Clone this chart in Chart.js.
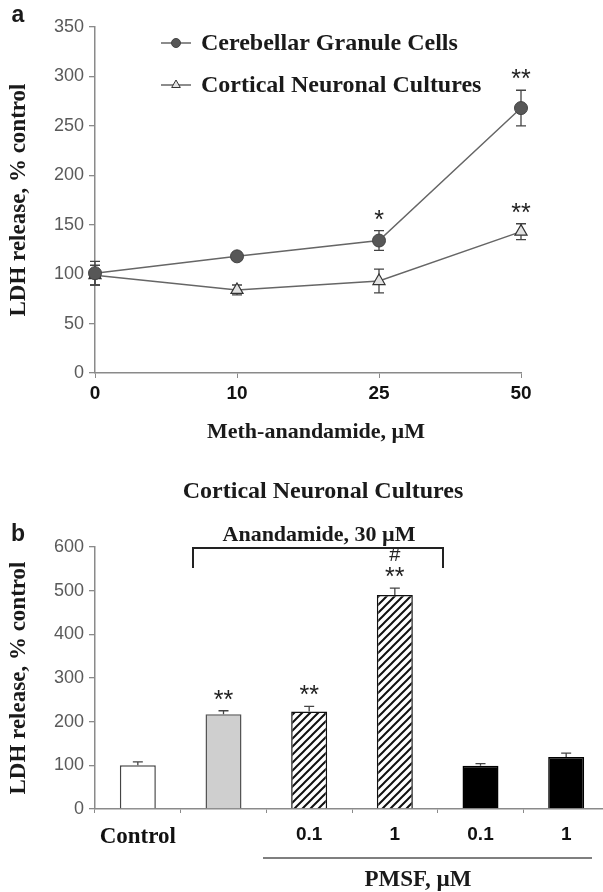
<!DOCTYPE html>
<html>
<head>
<meta charset="utf-8">
<script src="https://cdn.jsdelivr.net/npm/chart.js@4.4.1/dist/chart.umd.min.js"></script>
<style>
  html, body { margin: 0; padding: 0; background: #fff; }
  #wrap { position: relative; width: 603px; height: 892px; overflow: hidden; }
  #boxA { position: absolute; left: 0; top: 0; width: 603px; height: 455px; }
  #boxB { position: absolute; left: 0; top: 455px; width: 615px; height: 437px; }
</style>
</head>
<body>
<div id="wrap">
  <div id="boxA"><canvas id="chartA"></canvas></div>
  <div id="boxB"><canvas id="chartB"></canvas></div>
</div>
<script>
// Panel a data
const doseLabels = ['0', '10', '25', '50'];
const cgcValues = [101, 118, 134, 268];
const cgcErrors = [12, 4, 10, 18];
const cgcStars = ['', '', '*', '**'];
const cncValues = [99, 84, 93, 143];
const cncErrors = [10, 5, 12, 8];
const cncStars = ['', '', '', '**'];
const aTickMax = 350, aTickStep = 50;

// Panel b data
const barLabels = ['Control', '', '0.1', '1', '0.1', '1'];
const barValues = [100, 217, 223, 490, 99, 119];
const barErrors = [8, 8, 12, 16, 5, 9];
const barStars = ['', '**', '**', '**', '', ''];
const barHash = ['', '', '', '#', '', ''];
const bTickMax = 600, bTickStep = 100;

const SERIF = '"Liberation Serif", "Times New Roman", serif';
const SANS = '"Liberation Sans", Arial, sans-serif';
const AXIS = '#8a8a8a';

// diagonal hatch for the anandamide + PMSF bars
function hatch() {
    const c = document.createElement('canvas');
    c.width = 8; c.height = 8;
    const g = c.getContext('2d');
    g.fillStyle = '#fff';
    g.fillRect(0, 0, 8, 8);
    g.strokeStyle = '#111';
    g.lineWidth = 2;
    g.beginPath();
    g.moveTo(-2, 10); g.lineTo(10, -2);
    g.moveTo(-2, 2); g.lineTo(2, -2);
    g.moveTo(6, 10); g.lineTo(10, 6);
    g.stroke();
    return g.createPattern(c, 'repeat');
}

// error bars, drawn from each dataset's errors list
const errorBars = {
    id: 'errorBars',
    beforeDatasetsDraw(chart, args, opts) {
        if (opts.upOnly) return;
        drawErrors(chart, opts);
    },
    afterDatasetsDraw(chart, args, opts) {
        if (!opts.upOnly) return;
        drawErrors(chart, opts);
    }
};

function drawErrors(chart, opts) {
    const ctx = chart.ctx;
    const y = chart.scales.y;
    ctx.save();
    ctx.strokeStyle = opts.color || '#444';
    ctx.lineWidth = 1.3;
    chart.data.datasets.forEach((ds, di) => {
        const meta = chart.getDatasetMeta(di);
        meta.data.forEach((el, i) => {
            const v = ds.data[i], e = ds.errors[i];
            const top = y.getPixelForValue(v + e);
            const bot = opts.upOnly ? y.getPixelForValue(v) : y.getPixelForValue(v - e);
            const w = opts.cap;
            ctx.beginPath();
            ctx.moveTo(el.x, top); ctx.lineTo(el.x, bot);
            ctx.moveTo(el.x - w, top); ctx.lineTo(el.x + w, top);
            if (!opts.upOnly) { ctx.moveTo(el.x - w, bot); ctx.lineTo(el.x + w, bot); }
            ctx.stroke();
        });
    });
    ctx.restore();
}

// significance marks above the error bars
const starMarks = {
    id: 'starMarks',
    afterDatasetsDraw(chart, args, opts) {
        const ctx = chart.ctx;
        const y = chart.scales.y;
        ctx.save();
        ctx.fillStyle = '#222';
        ctx.textAlign = 'center';
        ctx.textBaseline = 'alphabetic';
        chart.data.datasets.forEach((ds, di) => {
            const meta = chart.getDatasetMeta(di);
            meta.data.forEach((el, i) => {
                const top = y.getPixelForValue(ds.data[i] + ds.errors[i]);
                if (ds.stars && ds.stars[i]) {
                    ctx.font = '25px ' + SANS;
                    ctx.fillText(ds.stars[i], el.x, top + opts.gap);
                }
                if (ds.hash && ds.hash[i]) {
                    ctx.font = '20px ' + SANS;
                    ctx.fillText(ds.hash[i], el.x, top + opts.gap - 24);
                }
            });
        });
        ctx.restore();
    }
};

// free text, legend, brackets
const freeText = {
    id: 'freeText',
    afterDraw(chart, args, opts) {
        const ctx = chart.ctx;
        ctx.save();
        (opts.lines || []).forEach(l => {
            ctx.strokeStyle = l.color || '#222';
            ctx.lineWidth = l.width || 1.5;
            ctx.beginPath();
            l.pts.forEach((p, k) => k ? ctx.lineTo(p[0], p[1]) : ctx.moveTo(p[0], p[1]));
            ctx.stroke();
        });
        (opts.texts || []).forEach(t => {
            ctx.font = t.font;
            ctx.fillStyle = t.color || '#1a1a1a';
            ctx.textAlign = t.align || 'center';
            ctx.textBaseline = 'middle';
            ctx.fillText(t.text, t.x, t.y);
        });
        (opts.legend || []).forEach(item => {
            const ds = chart.data.datasets[item.index];
            ctx.strokeStyle = ds.borderColor;
            ctx.lineWidth = 1.5;
            ctx.beginPath();
            ctx.moveTo(item.x, item.y); ctx.lineTo(item.x + 30, item.y);
            ctx.stroke();
            ctx.fillStyle = ds.pointBackgroundColor;
            ctx.strokeStyle = ds.pointBorderColor;
            ctx.lineWidth = 1;
            Chart.helpers.drawPoint(ctx, { pointStyle: ds.pointStyle, radius: item.r, rotation: 0, borderWidth: 1 }, item.x + 15, item.y);
            ctx.font = 'bold 24px ' + SERIF;
            ctx.fillStyle = '#1a1a1a';
            ctx.textAlign = 'left';
            ctx.textBaseline = 'middle';
            ctx.fillText(ds.label, item.x + 40, item.y + 1);
        });
        ctx.restore();
    }
};

function yAxis(max, step, width, title) {
    return {
        min: 0, max: max,
        afterFit: s => { s.width = width; },
        ticks: { stepSize: step, color: '#5a5a5a', padding: 5, font: { family: SANS, size: 18 } },
        grid: { drawOnChartArea: false, drawTicks: true, tickLength: 6, color: AXIS, lineWidth: 1.3 },
        border: { display: true, color: AXIS, width: 1.5 },
        title: { display: true, text: title, color: '#1a1a1a', padding: { top: 5, bottom: 0 },
                 font: { family: SERIF, size: 23, weight: 'bold' } }
    };
}

Chart.defaults.animation = false;

new Chart(document.getElementById('chartA'), {
    type: 'line',
    data: {
        labels: doseLabels,
        datasets: [
            {
                label: 'Cerebellar Granule Cells',
                data: cgcValues, errors: cgcErrors, stars: cgcStars,
                borderColor: '#666', borderWidth: 1.5,
                pointStyle: 'circle', pointRadius: 6.5,
                pointBackgroundColor: '#575757', pointBorderColor: '#444', pointBorderWidth: 1
            },
            {
                label: 'Cortical Neuronal Cultures',
                data: cncValues, errors: cncErrors, stars: cncStars,
                borderColor: '#666', borderWidth: 1.5,
                pointStyle: 'triangle', pointRadius: 7,
                pointBackgroundColor: '#e2e2e2', pointBorderColor: '#333', pointBorderWidth: 1.2
            }
        ]
    },
    options: {
        responsive: true,
        maintainAspectRatio: false,
        layout: { padding: { top: 27, right: 82, left: 0, bottom: 0 } },
        scales: {
            x: {
                offset: false,
                afterFit: s => { s.height = 82; },
                ticks: { color: '#111', padding: 4, font: { family: SANS, size: 19, weight: 'bold' } },
                grid: { drawOnChartArea: false, drawTicks: true, tickLength: 5, color: AXIS },
                border: { display: true, color: AXIS, width: 1.5 }
            },
            y: yAxis(aTickMax, aTickStep, 95, 'LDH release, % control')
        },
        plugins: {
            legend: { display: false },
            tooltip: { enabled: false },
            errorBars: { cap: 5, color: '#444' },
            starMarks: { gap: -3 },
            freeText: {
                texts: [
                    { text: 'a', x: 18, y: 16, font: 'bold 23px ' + SANS },
                    { text: 'Meth-anandamide, \u00b5M', x: 316, y: 432, font: 'bold 22px ' + SERIF }
                ],
                legend: [
                    { index: 0, x: 161, y: 43, r: 4.5 },
                    { index: 1, x: 161, y: 85, r: 5 }
                ]
            }
        }
    },
    plugins: [errorBars, starMarks, freeText]
});

const pattern = hatch();
new Chart(document.getElementById('chartB'), {
    type: 'bar',
    data: {
        labels: barLabels,
        datasets: [{
            data: barValues, errors: barErrors, stars: barStars, hash: barHash,
            backgroundColor: ['#ffffff', '#cfcfcf', pattern, pattern, '#000000', '#000000'],
            borderColor: ['#444', '#555', '#111', '#111', '#000', '#000'],
            borderWidth: 1.5,
            barPercentage: 0.42,
            categoryPercentage: 1
        }]
    },
    options: {
        responsive: true,
        maintainAspectRatio: false,
        layout: { padding: { top: 92, right: 6, left: 0, bottom: 0 } },
        scales: {
            x: {
                afterFit: s => { s.height = 83; },
                ticks: {
                    color: '#111', padding: 10,
                    font: ctx => ctx.index === 0
                        ? { family: SERIF, size: 23, weight: 'bold' }
                        : { family: SANS, size: 19, weight: 'bold' }
                },
                grid: { drawOnChartArea: false, drawTicks: true, tickLength: 4, color: AXIS },
                border: { display: true, color: AXIS, width: 1.5 }
            },
            y: yAxis(bTickMax, bTickStep, 95, 'LDH release, % control')
        },
        plugins: {
            legend: { display: false },
            tooltip: { enabled: false },
            errorBars: { cap: 5, color: '#444', upOnly: true },
            starMarks: { gap: -3 },
            freeText: {
                texts: [
                    { text: 'b', x: 18, y: 80, font: 'bold 23px ' + SANS },
                    { text: 'Cortical Neuronal Cultures', x: 323, y: 37, font: 'bold 24px ' + SERIF },
                    { text: 'Anandamide, 30 \u00b5M', x: 319, y: 80, font: 'bold 22px ' + SERIF },
                    { text: 'PMSF, \u00b5M', x: 418, y: 425, font: 'bold 23px ' + SERIF }
                ],
                lines: [
                    { pts: [[193, 113], [193, 93], [443, 93], [443, 113]], width: 2, color: '#222' },
                    { pts: [[263, 403], [592, 403]], width: 1.3, color: '#555' }
                ]
            }
        }
    },
    plugins: [errorBars, starMarks, freeText]
});
</script>
</body>
</html>
